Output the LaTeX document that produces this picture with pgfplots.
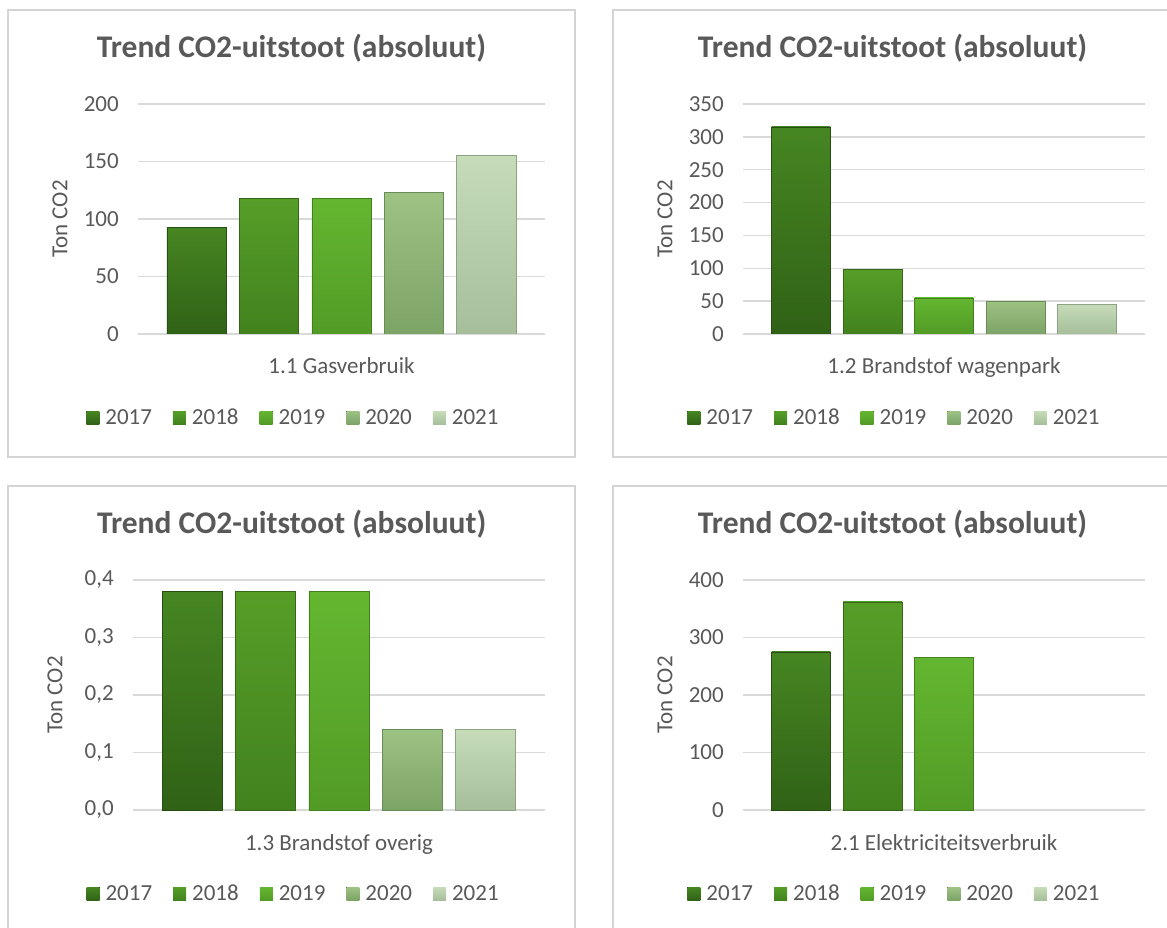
\documentclass[border=0pt]{standalone}
\usepackage{pgfplots}
\pgfplotsset{compat=1.18}
\usepackage{fontspec}
\setmainfont{Carlito}

\definecolor{txt}{RGB}{89,89,89}
\definecolor{gridc}{RGB}{217,217,217}
\definecolor{framec}{RGB}{212,212,212}
% bar colours: top / bottom / edge
\definecolor{c17t}{RGB}{70,134,34}\definecolor{c17b}{RGB}{48,98,22}\definecolor{c17d}{RGB}{38,78,18}
\definecolor{c18t}{RGB}{86,158,40}\definecolor{c18b}{RGB}{66,130,30}\definecolor{c18d}{RGB}{52,104,24}
\definecolor{c19t}{RGB}{100,182,48}\definecolor{c19b}{RGB}{82,156,38}\definecolor{c19d}{RGB}{66,128,30}
\definecolor{c20t}{RGB}{156,194,132}\definecolor{c20b}{RGB}{124,164,102}\definecolor{c20d}{RGB}{104,140,86}
\definecolor{c21t}{RGB}{198,220,184}\definecolor{c21b}{RGB}{166,190,154}\definecolor{c21d}{RGB}{140,162,130}

\pgfplotsset{
  panel/.style={
    scale only axis, height=230pt,
    xmin=-0.81, xmax=4.81, ymin=0,
    axis line style={draw=none},
    major tick length=0pt,
    ymajorgrids, grid style={line width=1.5pt, color=gridc},
    xtick={2},
    ticklabel style={font=\fontsize{23}{27}\selectfont, text=txt},
    /pgf/number format/assume math mode=true,
    yticklabel style={inner sep=0pt, xshift=-19pt},
    xticklabel style={anchor=base, yshift=-40pt, inner sep=0pt},
    ylabel={Ton CO2},
    every axis y label/.style={at={(axis description cs:0,0.5)}, xshift=-78pt,
      rotate=90, anchor=center, font=\fontsize{23}{27}\selectfont, text=txt},
    title={Trend CO2-uitstoot (absoluut)},
    title style={at={(axis description cs:#1,1.177)}, anchor=base,
      font=\fontsize{31.5}{37}\selectfont\bfseries, text=txt},
    legend columns=5,
    legend style={at={(axis description cs:#1,-0.364)}, anchor=center, xshift=4pt,
      draw=none, fill=none, font=\fontsize{23}{27}\selectfont, text=txt,
      /tikz/every even column/.append style={column sep=15pt},
      nodes={inner xsep=6pt}},
    legend image code/.code={\fill[##1,draw=none] (0pt,-6.5pt) rectangle (13pt,6.5pt);},
  },
  yrbar/.style={ybar, bar width=0.82, bar shift=0pt, line width=0.6pt,
    top color=#1t, bottom color=#1b, draw=#1d},
}

\begin{document}
\begin{tikzpicture}
\path[use as bounding box] (0pt,0pt) rectangle (1167pt,927pt);

% panel frames
\draw[framec, line width=1.5pt] (8pt,470pt) rectangle (575pt,917pt);
\draw[framec, line width=1.5pt] (613pt,470pt) rectangle (1172pt,917pt);
\draw[framec, line width=1.5pt] (8pt,-20pt) rectangle (575pt,441pt);
\draw[framec, line width=1.5pt] (613pt,-20pt) rectangle (1172pt,441pt);

% 1.1 Gasverbruik
\begin{axis}[panel=0.377, at={(138pt,593pt)}, anchor=south west, width=407pt,
  ymax=200, ytick={0,50,...,200}, xticklabels={1.1 Gasverbruik}]
\addplot[yrbar=c17] coordinates {(0,93)};
\addplot[yrbar=c18] coordinates {(1,118)};
\addplot[yrbar=c19] coordinates {(2,118)};
\addplot[yrbar=c20] coordinates {(3,123)};
\addplot[yrbar=c21] coordinates {(4,155)};
\legend{2017,2018,2019,2020,2021}
\end{axis}

% 1.2 Brandstof wagenpark
\begin{axis}[panel=0.372, at={(743pt,593pt)}, anchor=south west, width=402pt,
  ymax=350, ytick={0,50,...,350}, xticklabels={1.2 Brandstof wagenpark}]
\addplot[yrbar=c17] coordinates {(0,315)};
\addplot[yrbar=c18] coordinates {(1,98)};
\addplot[yrbar=c19] coordinates {(2,55)};
\addplot[yrbar=c20] coordinates {(3,50)};
\addplot[yrbar=c21] coordinates {(4,45)};
\legend{2017,2018,2019,2020,2021}
\end{axis}

% 1.3 Brandstof overig
\begin{axis}[panel=0.385, at={(133pt,117pt)}, anchor=south west, width=412pt,
  ymax=0.4, ytick={0,0.1,0.2,0.3,0.4}, xticklabels={1.3 Brandstof overig},
  yticklabel style={/pgf/number format/.cd, fixed, fixed zerofill, precision=1, use comma}]
\addplot[yrbar=c17] coordinates {(0,0.38)};
\addplot[yrbar=c18] coordinates {(1,0.38)};
\addplot[yrbar=c19] coordinates {(2,0.38)};
\addplot[yrbar=c20] coordinates {(3,0.14)};
\addplot[yrbar=c21] coordinates {(4,0.14)};
\legend{2017,2018,2019,2020,2021}
\end{axis}

% 2.1 Elektriciteitsverbruik
\begin{axis}[panel=0.372, at={(743pt,117pt)}, anchor=south west, width=402pt,
  ymax=400, ytick={0,100,...,400}, xticklabels={2.1 Elektriciteitsverbruik}]
\addplot[yrbar=c17] coordinates {(0,275)};
\addplot[yrbar=c18] coordinates {(1,362)};
\addplot[yrbar=c19] coordinates {(2,266)};
\addplot[yrbar=c20, draw=none] coordinates {(3,0)};
\addplot[yrbar=c21, draw=none] coordinates {(4,0)};
\legend{2017,2018,2019,2020,2021}
\end{axis}
\end{tikzpicture}
\end{document}
